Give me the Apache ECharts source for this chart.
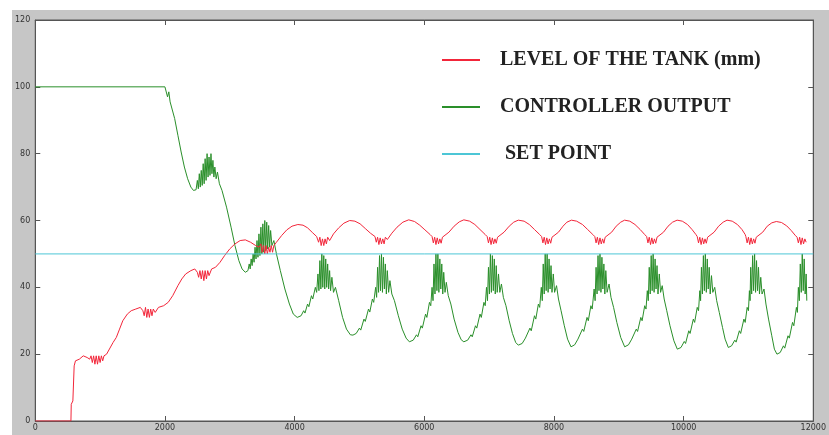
<!DOCTYPE html>
<html>
<head>
<meta charset="utf-8">
<script src="https://cdn.jsdelivr.net/npm/echarts@6/dist/echarts.min.js"></script>
<style>
html,body{margin:0;padding:0;background:#ffffff;}
#frame{position:absolute;left:12px;top:10px;width:817px;height:425px;background:#c6c6c6;}
#chart{width:817px;height:425px;}
</style>
</head>
<body>
<div id="frame"><div id="chart"></div></div>
<script>
// ---- data ----
const xTicks = [0, 2000, 4000, 6000, 8000, 10000, 12000];
const yTicks = [0, 20, 40, 60, 80, 100, 120];
const seriesNames = ['LEVEL OF THE TANK (mm)', 'CONTROLLER OUTPUT', ' SET POINT'];

const levelData = [
[0,0],[550,0],[555,5],[580,6],[600,16.5],[620,18],[680,18.5],[740,19.5],[800,19],[840,18.5],[860,19.5],[880,17.5],[900,19.5],[920,17],[940,19.5],[960,17],[980,19.5],[1000,17.5],[1020,19.5],[1040,18],[1060,19.5],[1100,20],[1130,20.5],[1200,23.5],[1250,25],[1300,27.5],[1350,30],[1420,32],[1480,33],[1550,33.5],[1620,34],[1660,33],[1680,31.5],[1700,34],[1720,31],[1740,33.5],[1760,31],[1780,33.5],[1800,31.5],[1820,33.5],[1850,32.5],[1900,34],[1980,34.5],[2050,35.5],[2120,37.5],[2200,40.5],[2260,42.5],[2320,44],[2400,45],[2460,45.5],[2500,44.5],[2520,43],[2540,45],[2560,42.5],[2580,45],[2600,42],[2620,45],[2640,42.5],[2660,45],[2680,43.5],[2720,45.5],[2780,46],[2850,47.5],[2920,49.5],[3000,51.5],[3080,53],[3160,54],[3240,54.2],[3320,53.5],[3400,52.5],[3450,52],[3480,53],[3500,50.5],[3520,52.5],[3540,50],[3560,52.5],[3580,50],[3600,52],[3620,50.5],[3640,52.5],[3660,50.5],[3680,52.5],[3720,53.5],[3800,55.5],[3880,57.2],[3960,58.3],[4050,58.8],[4130,58.6],[4200,57.8],[4280,56.3],[4340,55.2],[4370,53.5],[4390,55],[4410,52.5],[4430,54.5],[4450,52.5],[4470,54.5],[4490,53],[4510,55],[4540,54],[4600,56],[4680,57.8],[4760,59.2],[4850,60],[4930,59.8],[5010,59],[5090,57.6],[5170,56.2],[5240,55.2],[5260,53.5],[5280,55],[5300,52.8],[5320,54.8],[5340,53],[5360,54.5],[5380,53],[5400,55],[5430,54.3],[5500,56.2],[5580,58],[5670,59.5],[5760,60.2],[5850,59.7],[5930,58.6],[6010,57.2],[6090,55.8],[6120,55.2],[6140,53.3],[6160,55],[6180,52.8],[6200,54.8],[6220,53],[6240,54.5],[6260,53.2],[6280,55],[6310,54.8],[6380,56.5],[6460,58.3],[6540,59.6],[6610,60.2],[6700,59.8],[6780,58.8],[6860,57.3],[6940,55.8],[6970,55.2],[6990,53.3],[7010,55],[7030,52.8],[7050,54.8],[7070,53],[7090,54.5],[7110,53.2],[7130,55],[7160,54.8],[7230,56.5],[7310,58.3],[7380,59.5],[7450,60.1],[7540,59.8],[7620,58.8],[7700,57.3],[7780,55.8],[7810,55.2],[7830,53.3],[7850,55],[7870,52.8],[7890,54.8],[7910,53],[7930,54.5],[7950,53.2],[7970,55],[8000,54.8],[8070,56.5],[8140,58.3],[8200,59.5],[8270,60.1],[8350,59.8],[8440,58.8],[8520,57.3],[8600,55.8],[8630,55.2],[8650,53.3],[8670,55],[8690,52.8],[8710,54.8],[8730,53],[8750,54.5],[8770,53.2],[8790,55],[8820,54.8],[8890,56.5],[8960,58.3],[9030,59.5],[9090,60.1],[9170,59.8],[9250,58.8],[9330,57.3],[9400,55.8],[9430,55.2],[9450,53.3],[9470,55],[9490,52.8],[9510,54.8],[9530,53],[9550,54.5],[9570,53.2],[9590,55],[9620,54.8],[9690,56.5],[9760,58.3],[9830,59.5],[9900,60.1],[9980,59.8],[10060,58.8],[10130,57.3],[10190,55.8],[10210,55.2],[10230,53.3],[10250,55],[10270,52.8],[10290,54.8],[10310,53],[10330,54.5],[10350,53.2],[10370,55],[10400,54.8],[10470,56.5],[10540,58.3],[10610,59.5],[10670,60.1],[10750,59.8],[10830,58.8],[10900,57.3],[10950,55.8],[10960,55.2],[10980,53.3],[11000,55],[11020,52.8],[11040,54.8],[11060,53],[11080,54.5],[11100,53.2],[11120,55],[11150,54.8],[11220,56.5],[11290,58.3],[11360,59.3],[11430,59.7],[11510,59.4],[11590,58.4],[11660,57],[11720,55.6],[11750,55],[11770,53.3],[11790,55],[11810,52.8],[11830,54.8],[11850,53],[11870,54.5],[11890,53.5]
];

const controllerData = [
[0,100],[2000,100],[2020,99.5],[2040,97],[2060,98.5],[2080,95.5],[2100,95],[2150,90.5],[2200,85.5],[2250,80.5],[2300,76],[2350,72.5],[2400,70],[2440,69],[2480,69.2],[2500,72],[2515,69.5],[2530,74],[2545,70],[2560,75],[2575,70.5],[2590,77],[2605,71],[2620,78.5],[2635,72],[2650,80],[2665,73],[2680,79],[2695,73.5],[2710,80],[2725,74],[2740,78],[2755,73],[2770,76],[2790,72.5],[2810,74.5],[2840,71],[2880,69],[2950,64],[3020,58],[3080,52.5],[3140,48],[3190,45.5],[3240,44.5],[3280,45],[3300,47],[3315,45.5],[3330,48.5],[3345,46.5],[3360,50],[3375,47.5],[3390,52],[3405,48.5],[3420,54],[3435,49],[3450,56],[3465,49.5],[3480,58],[3495,50],[3510,59],[3525,50.5],[3540,60],[3555,51],[3570,59.5],[3585,51.5],[3600,58.5],[3615,52],[3630,57],[3650,52.5],[3680,54],[3720,50],[3780,45],[3850,39.5],[3920,35],[3980,32],[4040,31],[4100,31.5],[4140,33],[4160,32.3],[4200,35],[4220,34.2],[4260,37.5],[4280,36.5],[4320,40],[4340,38.5],[4360,44],[4375,39],[4390,48],[4405,39.5],[4420,50],[4435,40],[4450,49.5],[4465,39.5],[4480,48.5],[4495,40],[4510,47],[4525,39.5],[4540,45],[4555,39],[4575,43],[4600,38.5],[4630,40],[4680,36],[4740,31],[4800,27.5],[4860,25.8],[4900,25.7],
[4950,26.2],[5000,27.8],[5020,27.2],[5070,30.5],[5090,29.8],[5140,33.5],[5160,32.6],[5200,36.5],[5220,35.5],[5250,40],[5265,37],[5280,46],[5295,38.5],[5310,49.5],[5325,39],[5340,50],[5355,38.5],[5370,49],[5385,39.5],[5400,47],[5415,38],[5430,45],[5450,38.5],[5470,42],[5500,38],[5540,36],[5600,31.5],[5660,27.5],[5720,24.8],[5770,23.7],
[5830,24.2],[5880,25.8],[5900,25.2],[5950,28.5],[5970,27.8],[6020,32],[6040,31],[6080,35.5],[6100,34.5],[6120,40],[6135,36],[6150,47],[6165,38],[6180,50],[6195,39],[6210,50],[6225,38.5],[6240,48.5],[6255,39.5],[6270,47],[6285,38],[6300,44.5],[6320,38.5],[6340,41.5],[6370,37.5],[6410,35],[6460,30.5],[6520,26.5],[6570,24.3],[6610,23.7],
[6670,24.2],[6720,25.8],[6740,25.2],[6790,28.5],[6810,27.8],[6860,32],[6880,31],[6920,35.5],[6940,34.5],[6960,40],[6975,36],[6990,46],[7005,38],[7020,50],[7035,38.5],[7050,49.5],[7065,39],[7080,48.5],[7095,38],[7110,46.5],[7125,38.5],[7145,44],[7165,38.5],[7190,41],[7220,37],[7260,34.5],[7310,30],[7360,26.2],[7410,23.5],[7450,22.7],
[7510,23.2],[7560,24.8],[7580,24.3],[7630,27.8],[7650,27],[7700,31.5],[7720,30.5],[7760,35],[7780,34],[7805,40],[7820,36],[7835,47],[7850,38],[7865,50],[7880,39],[7895,50],[7910,38.5],[7925,48.5],[7940,39.5],[7955,46.5],[7970,38.5],[7990,44],[8010,38.5],[8040,40.5],[8070,36.5],[8110,33],[8160,28.5],[8210,24.5],[8263,22.2],
[8320,22.8],[8370,24.5],[8390,24],[8440,27.5],[8460,26.8],[8510,31],[8530,30],[8570,34.5],[8590,33.5],[8620,39.5],[8635,36],[8650,46],[8665,38],[8680,49.5],[8695,39],[8710,50],[8725,38.5],[8740,49],[8755,39.5],[8770,47],[8785,38],[8800,45],[8820,38.5],[8850,41],[8880,37],[8920,34],[8970,29.5],[9030,25],[9091,22.2],
[9150,22.8],[9200,24.5],[9220,24],[9270,27.5],[9290,26.8],[9340,31],[9360,30],[9400,34.5],[9420,33.5],[9440,39],[9455,36],[9470,46],[9485,38],[9500,49.5],[9515,39],[9530,50],[9545,38.5],[9560,48.5],[9575,39.5],[9590,46.5],[9605,38],[9625,44],[9645,38.5],[9670,40.5],[9700,36.5],[9740,33],[9790,28.5],[9850,24],[9903,21.5],
[9960,22],[10010,23.8],[10030,23.2],[10080,27],[10100,26.2],[10150,30.5],[10170,29.5],[10210,34],[10230,33],[10250,39],[10262,36],[10275,46],[10290,38],[10305,49.5],[10320,39],[10335,50],[10350,38.5],[10365,48.5],[10380,39.5],[10395,46],[10410,38],[10430,43.5],[10450,38.5],[10480,40],[10510,36],[10550,32.5],[10600,28],[10640,24.5],[10690,22],
[10740,22.5],[10790,24.2],[10810,23.6],[10860,27],[10880,26.2],[10930,30.5],[10950,29.5],[10980,34],[11000,33],[11015,39],[11025,36],[11035,46],[11050,38],[11065,49.5],[11080,39],[11095,50],[11110,38.5],[11125,48],[11140,39],[11155,46],[11170,38],[11190,43],[11210,38],[11240,39.5],[11270,35],[11310,30.5],[11360,25.5],[11400,21.5],[11440,20],
[11490,20.5],[11540,22.5],[11560,21.8],[11610,25.5],[11630,24.8],[11680,29.5],[11700,28.5],[11740,34],[11755,32.5],[11770,40],[11785,36],[11800,47],[11815,38.5],[11830,50],[11845,39],[11860,48.5],[11875,38],[11890,44],[11900,36]
];

const setPointData = [[0,50],[12000,50]];

// ---- chart ----
const chart = echarts.init(document.getElementById('chart'), null, {renderer:'canvas'});
const axisColor = '#555';
const labelStyle = {fontSize: 8, color: '#333', fontFamily: 'DejaVu Sans'};
function xAx(pos, showLabel){
  return {type:'value', position:pos, min:xTicks[0], max:xTicks[xTicks.length-1], interval:xTicks[1]-xTicks[0],
    axisLine:{show:true, onZero:false, lineStyle:{color:axisColor, width:1}},
    axisTick:{show:true, inside:true, length:5, lineStyle:{color:axisColor}},
    axisLabel:{show:showLabel, margin:3, formatter:function(v){return String(v);}, ...labelStyle},
    splitLine:{show:false}};
}
function yAx(pos, showLabel){
  return {type:'value', position:pos, min:yTicks[0], max:yTicks[yTicks.length-1], interval:yTicks[1]-yTicks[0],
    axisLine:{show:true, onZero:false, lineStyle:{color:axisColor, width:1}},
    axisTick:{show:true, inside:true, length:5, lineStyle:{color:axisColor}},
    axisLabel:{show:showLabel, margin:5, formatter:function(v){return String(v);}, ...labelStyle},
    splitLine:{show:false}};
}
const red = '#f2263a', green = '#2a8f2a', cyan = '#4cc6d6';
chart.setOption({
  animation:false,
  backgroundColor:'transparent',
  grid:{left:22, top:10, right:12, bottom:14, show:true, backgroundColor:'#ffffff', borderColor:axisColor, borderWidth:1},
  xAxis:[xAx('bottom', true), xAx('top', false)],
  yAxis:[yAx('left', true), yAx('right', false)],
  legend:{
    orient:'vertical', left:425, top:35, itemWidth:38, itemHeight:2, itemGap:27,
    icon:'rect',
    data: seriesNames,
    textStyle:{fontFamily:'Liberation Serif', fontWeight:'bold', fontSize:20, color:'#222', padding:[0,0,0,15]}
  },
  series:[
    {name:seriesNames[1], type:'line', data:controllerData, showSymbol:false, symbol:'none', z:2,
     lineStyle:{color:green, width:1}, itemStyle:{color:green}},
    {name:seriesNames[0], type:'line', data:levelData, showSymbol:false, symbol:'none', z:3,
     lineStyle:{color:red, width:1}, itemStyle:{color:red}},
    {name:seriesNames[2], type:'line', data:setPointData, showSymbol:false, symbol:'none', z:4,
     lineStyle:{color:cyan, width:1}, itemStyle:{color:cyan}}
  ]
});
</script>
</body>
</html>
